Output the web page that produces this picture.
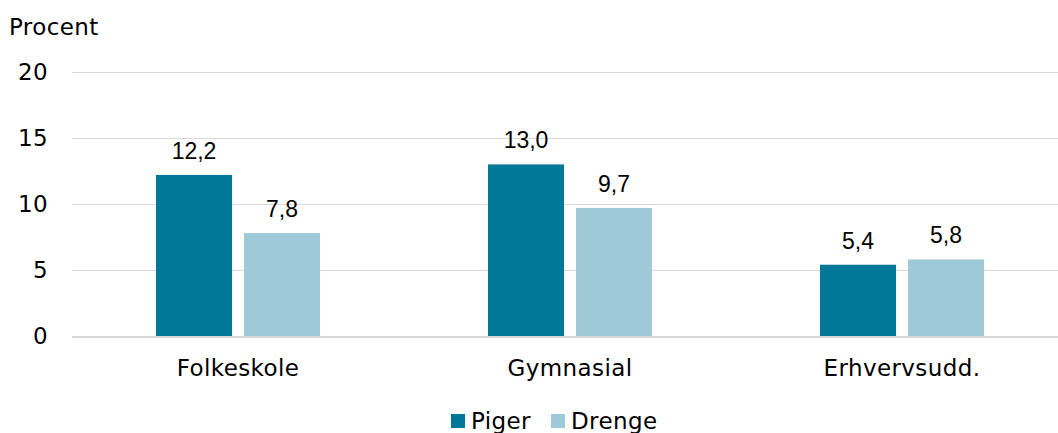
<!DOCTYPE html>
<html>
<head>
<meta charset="utf-8">
<script src="https://cdn.jsdelivr.net/npm/d3@7"></script>
<style>
  body { margin: 0; background: #fff; }
  .lbl { font-family: 'DejaVu Sans', sans-serif; font-size: 23px; letter-spacing: 0.4px; fill: #000; }
</style>
</head>
<body>
<div id="chart"></div>
<script>
const categories = ['Folkeskole', 'Gymnasial', 'Erhvervsudd.'];
const seriesNames = ['Piger', 'Drenge'];
const piger = [12.2, 13.0, 5.4];
const drenge = [7.8, 9.7, 5.8];
const yTicks = [0, 5, 10, 15, 20];
const colors = { Piger: '#027898', Drenge: '#9dcad6' };

const width = 1058;
const height = 433;
const margin = { top: 72, bottom: 97, left: 72 };

const svg = d3
  .select('#chart')
  .append('svg')
  .attr('width', width)
  .attr('height', height);

const x = d3
  .scaleBand()
  .domain(categories)
  .range([margin.left, 1068]);

const barW = 76;
const gap = 12;
const xInner = d3
  .scaleOrdinal()
  .domain(seriesNames)
  .range([-(barW + gap / 2), gap / 2]);

const y = d3
  .scaleLinear()
  .domain([0, 20])
  .range([height - margin.bottom, margin.top]);

// grid lines
svg
  .append('g')
  .selectAll('line')
  .data(yTicks.filter((d) => d > 0))
  .enter()
  .append('line')
  .attr('x1', margin.left)
  .attr('x2', width)
  .attr('y1', (d) => Math.round(y(d)) + 0.5)
  .attr('y2', (d) => Math.round(y(d)) + 0.5)
  .attr('stroke', '#d9d9d9')
  .attr('stroke-width', 1);

// y tick labels
svg
  .append('g')
  .selectAll('text')
  .data(yTicks)
  .enter()
  .append('text')
  .attr('class', 'lbl')
  .attr('x', 48)
  .attr('y', (d) => y(d) + 8)
  .attr('text-anchor', 'end')
  .text((d) => d);

svg
  .append('text')
  .attr('class', 'lbl')
  .attr('x', 9)
  .attr('y', 35)
  .text('Procent');

const rows = categories.map((c, i) => ({
  cat: c,
  values: [
    { name: 'Piger', v: piger[i] },
    { name: 'Drenge', v: drenge[i] },
  ],
}));

const groups = svg
  .append('g')
  .selectAll('g')
  .data(rows)
  .enter()
  .append('g')
  .attr('transform', (d) => `translate(${x(d.cat) + x.bandwidth() / 2}, 0)`);

groups
  .selectAll('rect')
  .data((d) => d.values)
  .enter()
  .append('rect')
  .attr('x', (d) => xInner(d.name))
  .attr('width', barW)
  .attr('y', (d) => y(d.v))
  .attr('height', (d) => y(0) - y(d.v))
  .attr('fill', (d) => colors[d.name]);

groups
  .selectAll('text.val')
  .data((d) => d.values)
  .enter()
  .append('text')
  .attr('class', 'val')
  .attr('x', (d) => xInner(d.name) + barW / 2)
  .attr('y', (d) => y(d.v) - 16)
  .attr('text-anchor', 'middle')
  .style('font-family', 'Liberation Sans, Arial, sans-serif')
  .style('font-size', '23px')
  .style('fill', '#000')
  .text((d) => d.v.toFixed(1).replace('.', ','));

// baseline
svg
  .append('line')
  .attr('x1', margin.left)
  .attr('x2', width)
  .attr('y1', y(0) + 1)
  .attr('y2', y(0) + 1)
  .attr('stroke', '#d9d9d9')
  .attr('stroke-width', 2);

// category labels
svg
  .append('g')
  .selectAll('text')
  .data(categories)
  .enter()
  .append('text')
  .attr('class', 'lbl')
  .attr('x', (d) => x(d) + x.bandwidth() / 2)
  .attr('y', 376)
  .attr('text-anchor', 'middle')
  .text((d) => d);

// legend
const legendX = [451, 551];
const legend = svg
  .append('g')
  .selectAll('g')
  .data(seriesNames)
  .enter()
  .append('g')
  .attr('transform', (d, i) => `translate(${legendX[i]}, 414)`);

legend
  .append('rect')
  .attr('width', 14)
  .attr('height', 14)
  .attr('fill', (d) => colors[d]);

legend
  .append('text')
  .attr('class', 'lbl')
  .attr('x', 20)
  .attr('y', 15)
  .text((d) => d);
</script>
</body>
</html>
